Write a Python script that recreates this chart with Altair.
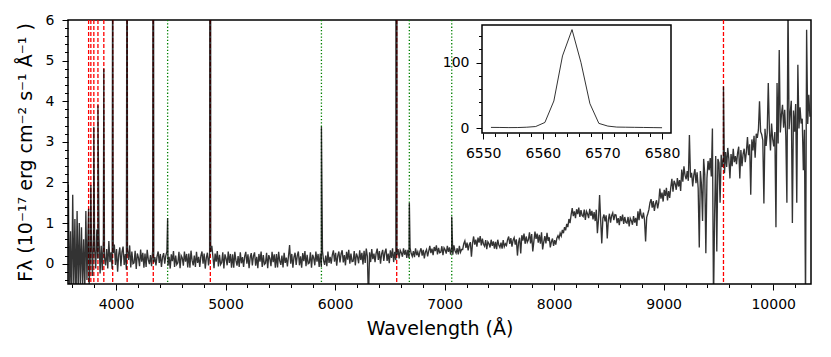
import altair as alt
import pandas as pd

# ---------------- data ----------------
wave_start = 3565
wave_step = 10
flux = [
    # 3565-3655
    1.95, -0.9, 0.8, -1.1, 1.7, -0.6, 1.1, -1.0, 1.3, -0.7,
    # 3665-3755
    1.0, -0.6, 0.9, -0.5, 0.6, -0.7, 1.3, -0.4, 0.8, -0.5,
    # 3765-3855
    0.06, 0.78, -0.3, 0.6, 0.36, -0.12, 0.84, 0.12, 0.66, -0.24,
    # 3865-3955
    0.44, -0.16, 0.6, 0.16, -0.04, 0.36, -0.12, 0.56, 0.04, 0.28,
    # 3965-4055
    -0.13, 0.26, 0.47, -0.03, 0.36, -0.2, 0.22, 0.4, -0.06, 0.29,
    # 4065-4155
    0.42, -0.03, 0.24, -0.15, 0.36, 0.09, 0.45, -0.09, 0.3, 0.0,
    # 4165-4255
    0.02, 0.32, -0.13, 0.25, 0.15, -0.06, 0.35, 0.05, 0.27, -0.1,
    # 4265-4355
    0.25, -0.08, 0.34, 0.1, -0.01, 0.21, -0.06, 0.32, 0.03, 0.16,
    # 4365-4455
    -0.04, 0.18, 0.3, 0.02, 0.24, -0.08, 0.16, 0.26, 0.0, 0.2,
    # 4465-4555
    0.3, -0.05, 0.17, -0.12, 0.23, 0.06, 0.31, -0.08, 0.2, -0.02,
    # 4565-4655
    0.02, 0.29, -0.11, 0.2, 0.14, -0.05, 0.3, 0.05, 0.24, -0.09,
    # 4665-4755
    0.25, -0.1, 0.32, 0.08, -0.04, 0.2, -0.08, 0.29, 0.02, 0.17,
    # 4765-4855
    -0.08, 0.19, 0.3, 0.0, 0.25, -0.12, 0.15, 0.27, -0.04, 0.2,
    # 4865-4955
    0.29, 0.44, 0.17, -0.11, 0.25, 0.05, 0.31, -0.07, 0.22, -0.02,
    # 4965-5055
    0.03, 0.28, -0.12, 0.23, 0.13, -0.04, 0.3, 0.02, 0.24, -0.1,
    # 5065-5155
    0.23, -0.1, 0.29, 0.08, -0.05, 0.19, -0.08, 0.28, 0.01, 0.16,
    # 5165-5255
    -0.08, 0.18, 0.29, 0.0, 0.23, -0.11, 0.15, 0.26, -0.04, 0.19,
    # 5265-5355
    0.28, -0.05, 0.17, -0.11, 0.24, 0.05, 0.3, -0.08, 0.21, -0.02,
    # 5365-5455
    0.01, 0.27, -0.11, 0.21, 0.13, -0.06, 0.29, 0.04, 0.23, -0.1,
    # 5465-5555
    0.24, -0.09, 0.29, 0.07, -0.03, 0.2, -0.09, 0.27, 0.02, 0.15,
    # 5565-5655
    -0.07, 0.19, 0.46, 0.0, 0.24, -0.1, 0.16, 0.27, -0.03, 0.2,
    # 5665-5755
    0.3, -0.04, 0.18, -0.1, 0.26, 0.06, 0.31, -0.06, 0.22, 0.0,
    # 5765-5855
    0.02, 0.28, -0.1, 0.22, 0.14, -0.04, 0.3, 0.05, 0.24, -0.08,
    # 5865-5955
    0.25, -0.08, 0.31, 0.08, -0.03, 0.2, -0.06, 0.3, 0.02, 0.17,
    # 5965-6055
    0.0, 0.22, 0.33, 0.05, 0.27, -0.05, 0.2, 0.3, 0.03, 0.24,
    # 6065-6155
    0.33, 0.03, 0.21, -0.04, 0.29, 0.1, 0.34, 0.0, 0.25, 0.05,
    # 6165-6255
    0.06, 0.31, -0.04, 0.25, 0.17, 0.01, 0.33, 0.09, 0.27, -0.02,
    # 6265-6355
    0.32, 0.02, 0.37, 0.18, -0.9, 0.28, 0.04, 0.36, 0.11, 0.25,
    # 6365-6455
    0.04, 0.26, 0.37, 0.09, 0.31, 0.0, 0.24, 0.34, 0.07, 0.28,
    # 6465-6555
    0.37, 0.07, 0.25, 0.01, 0.33, 0.14, 0.38, 0.04, 0.29, 0.09,
    # 6565-6655
    0.21, 0.36, 0.13, 0.33, 0.27, 0.17, 0.38, 0.22, 0.34, 0.14,
    # 6665-6755
    0.34, 0.14, 0.39, 0.25, 0.18, 0.31, 0.16, 0.38, 0.21, 0.29,
    # 6765-6855
    0.16, 0.3, 0.38, 0.2, 0.34, 0.13, 0.29, 0.35, 0.18, 0.31,
    # 6865-6955
    0.44, 0.26, 0.37, 0.21, 0.41, 0.31, 0.45, 0.23, 0.39, 0.27,
    # 6965-7055
    0.28, 0.43, 0.21, 0.39, 0.34, 0.25, 0.44, 0.29, 0.4, 0.22,
    # 7065-7155
    0.4, 0.22, 0.45, 0.32, 0.26, 0.38, 0.23, 0.44, 0.28, 0.35,
    # 7165-7255
    0.35, 0.49, 0.56, 0.39, 0.52, 0.33, 0.47, 0.53, 0.17, 0.5,
    # 7265-7355
    0.67, 0.47, 0.59, 0.42, 0.64, 0.52, 0.68, 0.45, 0.62, 0.48,
    # 7365-7455
    0.43, 0.58, 0.36, 0.54, 0.49, 0.4, 0.59, 0.44, 0.55, 0.37,
    # 7465-7555
    0.54, 0.36, 0.59, 0.46, 0.4, 0.52, 0.37, 0.58, 0.42, 0.49,
    # 7565-7655
    0.45, 0.59, 0.67, 0.49, 0.63, 0.42, 0.58, 0.64, 0.47, 0.6,
    # 7665-7755
    0.2, 0.52, 0.64, 0.25, 0.7, 0.57, 0.74, 0.49, 0.67, 0.53,
    # 7765-7855
    0.59, 0.77, 0.5, 0.73, 0.3, 0.55, 0.79, 0.61, 0.74, 0.52,
    # 7865-7955
    0.71, 0.49, 0.77, 0.35, 0.53, 0.68, 0.5, 0.76, 0.56, 0.65,
    # 7965-8055
    0.4, 0.54, 0.62, 0.44, 0.58, 0.47, 0.63, 0.69, 0.62, 0.75,
    # 8065-8155
    0.68, 0.83, 0.75, 0.9, 0.82, 0.98, 0.9, 1.1, 1.0, 1.2,
    # 8165-8255
    1.37, 1.17, 1.29, 1.12, 1.34, 1.22, 1.38, 1.15, 1.32, 1.19,
    # 8265-8355
    1.16, 1.33, 1.08, 1.29, 1.23, 1.12, 1.35, 1.18, 1.3, 1.09,
    # 8365-8455
    1.27, 1.05, 1.33, 0.75, 1.09, 1.69, 1.06, 0.5, 1.12, 1.21,
    # 8465-8555
    1.04, 1.19, 0.62, 1.08, 1.23, 1.01, 1.18, 1.25, 1.07, 1.21,
    # 8565-8655
    1.2, 1.0, 1.12, 0.95, 1.17, 1.05, 1.21, 0.98, 1.15, 1.02,
    # 8665-8755
    1.0, 1.15, 0.92, 1.12, 1.06, 0.96, 1.17, 1.01, 1.13, 0.93,
    # 8765-8855
    1.29, 1.07, 1.35, 1.19, 1.11, 1.26, 1.08, 0.55, 1.14, 1.23,
    # 8865-8955
    1.33, 1.5, 1.59, 1.38, 1.54, 1.3, 1.48, 1.56, 1.36, 1.51,
    # 8965-9055
    1.85, 1.6, 1.75, 1.53, 1.82, 1.67, 1.87, 1.56, 1.79, 1.62,
    # 9065-9155
    1.88, 2.09, 1.77, 2.04, 1.97, 1.82, 2.11, 1.9, 2.06, 1.79,
    # 9165-9255
    2.32, 2.02, 2.4, 2.18, 2.08, 2.28, 2.04, 3.17, 2.12, 2.24,
    # 9265-9355
    1.9, 2.18, 2.33, 1.98, 2.25, 1.85, 0.4, 2.28, 1.95, 1.05,
    # 9365-9455
    2.58, 2.2, 0.26, 2.1, 2.53, 2.3, 2.6, 2.15, 3.33, -1.0,
    # 9465-9555
    1.2, 2.65, 0.3, 2.58, 2.48, 1.5, 2.68, 2.38, 2.6, 2.23,
    # 9565-9655
    2.75, 2.38, 2.85, 2.58, 2.1, 2.7, 2.4, 2.83, 2.5, 2.65,
    # 9665-9755
    2.45, 2.73, 2.88, 2.1, 2.8, 2.4, 2.7, 2.83, 2.5, 2.75,
    # 9765-9855
    3.12, 2.67, 2.94, 1.7, 3.06, 2.79, 3.15, 2.61, 3.2, 3.1,
    # 9865-9955
    3.3, 4.0, 3.25, 3.18, 3.04, 1.48, 3.32, 2.9, 3.21, 4.45,
    # 9965-10055
    3.31, 2.79, 3.45, 3.07, 2.89, 3.24, 0.9, 4.45, 2.96, 5.26,
    # 10065-10155
    3.23, 3.67, 3.91, 3.35, 3.79, 3.15, 1.5, 6.5, 3.31, 3.71,
    # 10165-10255
    4.01, 1.0, 3.77, 3.25, 3.93, 1.5, 4.9, 3.33, 3.85, 3.45,
    # 10265-10335
    3.57, 2.3, 3.3, -1.0, 5.76, 3.44, 4.16, 3.62,
]
wave = [wave_start + wave_step * i for i in range(len(flux))]

# emission-line peaks
line_wave = [3750.2, 3770.6, 3797.9, 3835.4, 3889.0, 3970.1, 4101.7, 4340.5,
             4471.5, 4861.3, 5875.6, 6562.8, 6678.2, 7065.2, 9546.0]
line_peak = [1.35, 1.94, 3.37, 3.9, 4.8, 9.0, 12.0, 20.0,
             1.12, 40.0, 3.37, 150.0, 1.5, 1.16, 4.36]

# marker lines
balmer = [3750.15, 3770.63, 3797.90, 3835.38, 3889.05, 3970.07, 4101.74,
          4340.47, 4861.33, 6562.80, 9545.97]
hei = [4471.48, 5875.62, 6678.15, 7065.19]

# H-alpha zoom (inset)
ha_wave = [6551.3, 6552.8, 6554.3, 6555.8, 6557.3, 6558.8, 6560.35, 6561.85,
           6563.3, 6564.9, 6566.4, 6567.9, 6569.4, 6570.9, 6572.4, 6573.9,
           6575.4, 6576.9, 6578.5, 6580.0]
ha_flux = [1.5, 1.4, 1.2, 1.3, 1.8, 2.8, 9.0, 41.6, 110.0, 150.0, 100.0, 37.6,
           7.6, 3.5, 2.0, 1.8, 1.6, 1.4, 1.2, 1.0]

# axis limits and ticks
xlim = [3562, 10345]
ylim = [-0.5, 6]
x_ticks = [3600, 3800, 4000, 4200, 4400, 4600, 4800, 5000, 5200, 5400, 5600,
           5800, 6000, 6200, 6400, 6600, 6800, 7000, 7200, 7400, 7600, 7800,
           8000, 8200, 8400, 8600, 8800, 9000, 9200, 9400, 9600, 9800, 10000,
           10200]
y_ticks = [-0.4, -0.2, 0.0, 0.2, 0.4, 0.6, 0.8, 1.0, 1.2, 1.4, 1.6, 1.8, 2.0,
           2.2, 2.4, 2.6, 2.8, 3.0, 3.2, 3.4, 3.6, 3.8, 4.0, 4.2, 4.4, 4.6,
           4.8, 5.0, 5.2, 5.4, 5.6, 5.8, 6.0]
inset_xlim = [6549.8, 6581.5]
inset_ylim = [-7, 157]
inset_x_ticks = [6550, 6552, 6554, 6556, 6558, 6560, 6562, 6564, 6566, 6568,
                 6570, 6572, 6574, 6576, 6578, 6580]
inset_y_ticks = [0, 20, 40, 60, 80, 100, 120, 140]

# ---------------- layout ----------------
W, H = 743, 264
inset_px_x = [414, 603]
inset_px_y = [113, 5]

spec_df = pd.DataFrame({"w": wave + line_wave, "f": flux + line_peak}).sort_values("w")
red_df = pd.DataFrame({"w": balmer})
green_df = pd.DataFrame({"w": hei})
ha_df = pd.DataFrame({"w": ha_wave, "f": ha_flux})
box_df = pd.DataFrame({"x0": [inset_xlim[0]], "x1": [inset_xlim[1]],
                       "y0": [inset_ylim[0]], "y1": [inset_ylim[1]]})

FONT = "DejaVu Sans"

x_axis = alt.Axis(
    values=x_ticks, format="d", title="Wavelength (Å)",
    labelExpr="datum.value % 1000 === 0 ? datum.label : ''",
    tickSize={"condition": {"test": "datum.value % 1000 === 0", "value": 6}, "value": 3.5},
    grid=False, domain=False, labelFontSize=14, labelPadding=7,
    titleFontSize=19, titlePadding=8,
)
y_axis = alt.Axis(
    values=y_ticks, format=".0f",
    title="Fλ (10⁻¹⁷ erg cm⁻² s⁻¹ Å⁻¹ )",
    labelExpr="abs(datum.value - round(datum.value)) < 0.01 ? datum.label : ''",
    tickSize={"condition": {"test": "abs(datum.value - round(datum.value)) < 0.01", "value": 6}, "value": 3.5},
    grid=False, domain=False, labelFontSize=14, labelPadding=8,
    titleFontSize=19, titlePadding=10,
)
x_scale = alt.Scale(domain=xlim, nice=False, zero=False)
y_scale = alt.Scale(domain=ylim, nice=False, zero=False)

x_enc = alt.X("w:Q", scale=x_scale, axis=x_axis)

red = alt.Chart(red_df).mark_rule(color="#ff0000", strokeDash=[4, 2], strokeWidth=1.3).encode(x=x_enc)
green = alt.Chart(green_df).mark_rule(color="#008000", strokeDash=[1.3, 2], strokeWidth=1.3).encode(x=x_enc)
spec = alt.Chart(spec_df).mark_line(color="black", opacity=0.8, strokeWidth=1.35, clip=True).encode(
    x=x_enc, y=alt.Y("f:Q", scale=y_scale, axis=y_axis)
)
main = alt.layer(red, green, spec)

ix_scale = alt.Scale(domain=inset_xlim, range=inset_px_x, nice=False, zero=False)
iy_scale = alt.Scale(domain=inset_ylim, range=inset_px_y, nice=False, zero=False)
ix_axis = alt.Axis(
    values=inset_x_ticks, format="d", title=None, orient="bottom", offset=-(H - inset_px_y[0]),
    labelExpr="datum.value % 10 === 0 ? datum.label : ''",
    tickSize={"condition": {"test": "datum.value % 10 === 0", "value": 6}, "value": 3.5},
    grid=False, domain=False, labelFontSize=14, labelPadding=7,
)
iy_axis = alt.Axis(
    values=inset_y_ticks, format="d", title=None, orient="left", offset=-inset_px_x[0],
    labelExpr="datum.value % 100 === 0 ? datum.label : ''",
    tickSize={"condition": {"test": "datum.value % 100 === 0", "value": 6}, "value": 3.5},
    grid=False, domain=False, labelFontSize=14, labelPadding=7,
)
box = alt.Chart(box_df).mark_rect(fill="white", stroke="black", strokeWidth=1.5).encode(
    x=alt.X("x0:Q", scale=ix_scale, axis=ix_axis),
    x2="x1:Q",
    y=alt.Y("y0:Q", scale=iy_scale, axis=iy_axis),
    y2="y1:Q",
)
ha = alt.Chart(ha_df).mark_line(color="black", opacity=0.8, strokeWidth=1.0).encode(
    x=alt.X("w:Q", scale=ix_scale, axis=ix_axis),
    y=alt.Y("f:Q", scale=iy_scale, axis=iy_axis),
)
inset = alt.layer(box, ha)

chart = (
    alt.layer(main, inset)
    .resolve_scale(x="independent", y="independent")
    .resolve_axis(x="independent", y="independent")
    .properties(
        width=W, height=H,
        autosize=alt.AutoSizeParams(type="none"),
        padding={"left": 60, "top": 12, "right": 12, "bottom": 65},
        background="white",
    )
    .configure_view(stroke="black", strokeWidth=1.5)
    .configure_axis(
        labelFont=FONT, titleFont=FONT, labelColor="black", titleColor="black",
        tickColor="black", tickWidth=1, titleFontWeight="normal",
    )
)

chart.save("out.html", embed_options={"renderer": "svg", "actions": False})
